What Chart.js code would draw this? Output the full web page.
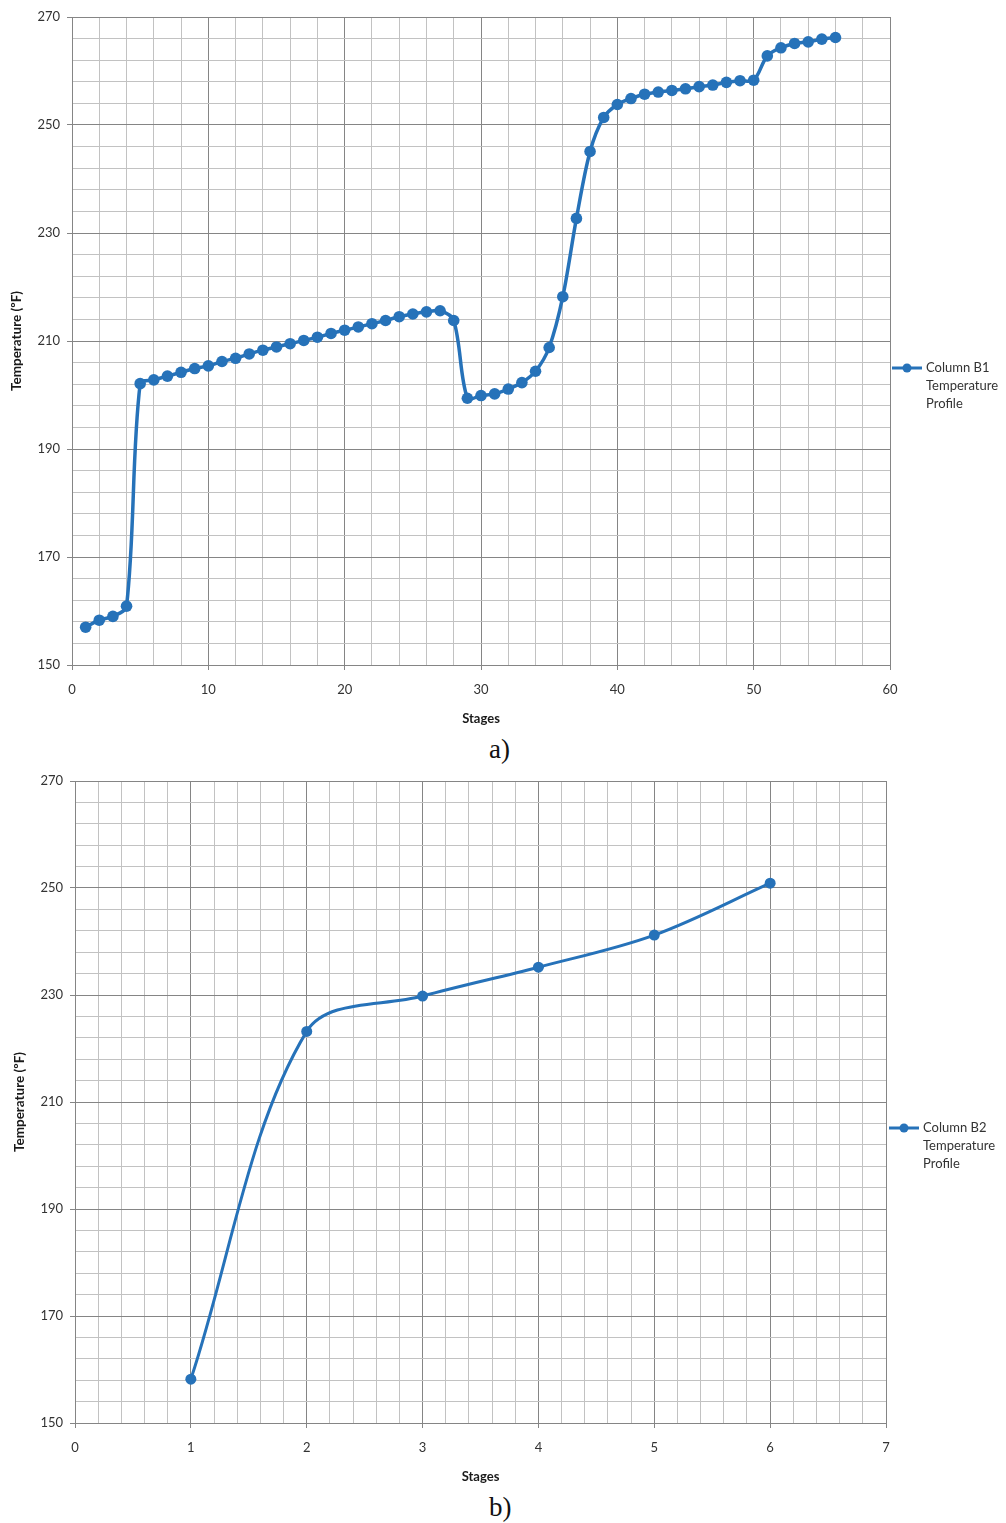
<!DOCTYPE html>
<html>
<head>
<meta charset="utf-8">
<script src="https://cdn.jsdelivr.net/npm/chart.js@4.4.1/dist/chart.umd.min.js"></script>
<style>
  html, body { margin: 0; padding: 0; background: #ffffff; }
  body { width: 1006px; height: 1523px; position: relative; overflow: hidden; }
  canvas { position: absolute; left: 0; }
  #chartA { top: 0; }
  #chartB { top: 764px; }
  .cap { position: absolute; font-family: "Liberation Serif", "DejaVu Serif", serif; font-size: 27px; line-height: 1; color: #111; }
</style>
</head>
<body>
<canvas id="chartA" width="1006" height="731"></canvas>
<div class="cap" style="left:489px;top:736px">a)</div>
<canvas id="chartB" width="1006" height="725"></canvas>
<div class="cap" style="left:489px;top:1494px">b)</div>
<script>
// Column B1: temperature on each of the 56 stages
const stagesB1 = [1, 2, 3, 4, 5, 6, 7, 8, 9, 10, 11, 12, 13, 14, 15, 16, 17, 18, 19, 20,
  21, 22, 23, 24, 25, 26, 27, 28, 29, 30, 31, 32, 33, 34, 35, 36, 37, 38, 39, 40,
  41, 42, 43, 44, 45, 46, 47, 48, 49, 50, 51, 52, 53, 54, 55, 56];
const tempsB1 = [157.0, 158.3, 159.0, 160.9, 202.1, 202.8, 203.5, 204.2, 204.9, 205.4,
  206.2, 206.8, 207.6, 208.3, 208.9, 209.5, 210.1, 210.7, 211.4, 212.0,
  212.6, 213.2, 213.8, 214.5, 215.0, 215.4, 215.6, 213.8, 199.4, 199.9,
  200.2, 201.1, 202.3, 204.4, 208.8, 218.2, 232.7, 245.1, 251.4, 253.8,
  254.9, 255.7, 256.1, 256.4, 256.7, 257.1, 257.4, 257.9, 258.2, 258.3,
  262.8, 264.3, 265.1, 265.4, 265.9, 266.2];

// Column B2: temperature on each of its 6 stages
const stagesB2 = [1, 2, 3, 4, 5, 6];
const tempsB2 = [158.2, 223.2, 229.8, 235.2, 241.2, 250.9];

const legendB1 = ['Column B1', 'Temperature', 'Profile'];
const legendB2 = ['Column B2', 'Temperature', 'Profile'];

const xTitle = 'Stages';
const yTitle = 'Temperature (ºF)';

const tempMin = 150, tempMax = 270, tempMajor = 20, tempMinor = 4;

const SERIES_COLOR = '#2672b9';
const MAJOR_GRID = '#858585';
const MINOR_GRID = '#c2c2c2';
const LABEL_COLOR = '#333333';
const FONT = 'Lato, "Open Sans", "DejaVu Sans", sans-serif';

function isMultiple(v, step) {
  const q = v / step;
  return Math.abs(q - Math.round(q)) < 1e-6;
}

// Legend drawn to the right of the plot: a line with a marker and wrapped text
const sideLegend = {
  id: 'sideLegend',
  afterDraw(chart, args, opts) {
    const ctx = chart.ctx;
    const ds = chart.data.datasets[0];
    ctx.save();
    ctx.strokeStyle = ds.borderColor;
    ctx.lineWidth = 3;
    ctx.beginPath();
    ctx.moveTo(opts.x, opts.y);
    ctx.lineTo(opts.x + opts.lineLen, opts.y);
    ctx.stroke();
    ctx.fillStyle = ds.pointBackgroundColor;
    ctx.beginPath();
    ctx.arc(opts.x + opts.lineLen / 2, opts.y, 4.5, 0, Math.PI * 2);
    ctx.fill();
    ctx.fillStyle = LABEL_COLOR;
    ctx.font = '13px ' + FONT;
    ctx.textBaseline = 'middle';
    ctx.textAlign = 'left';
    opts.lines.forEach((t, i) => {
      ctx.fillText(t, opts.x + opts.lineLen + 4, opts.y + i * 18);
    });
    ctx.restore();
  }
};

function buildChart(canvasId, xs, ys, cfg) {
  const points = xs.map((x, i) => ({ x: x, y: ys[i] }));
  return new Chart(document.getElementById(canvasId), {
    type: 'line',
    data: {
      datasets: [{
        label: cfg.legend.join(' '),
        data: points,
        borderColor: SERIES_COLOR,
        backgroundColor: SERIES_COLOR,
        pointBackgroundColor: SERIES_COLOR,
        pointBorderColor: SERIES_COLOR,
        borderWidth: cfg.lineWidth,
        pointRadius: cfg.pointRadius,
        pointBorderWidth: 0,
        tension: cfg.tension,
        fill: false
      }]
    },
    options: {
      responsive: false,
      animation: false,
      devicePixelRatio: 1,
      layout: { padding: { left: cfg.padLeft, right: cfg.padRight, top: cfg.padTop, bottom: 0 } },
      plugins: {
        legend: { display: false },
        tooltip: { enabled: false },
        sideLegend: { x: cfg.legendX, y: cfg.legendY, lineLen: 30, lines: cfg.legend }
      },
      scales: {
        x: {
          type: 'linear',
          min: 0,
          max: cfg.xMax,
          afterFit(scale) { scale.height = cfg.xAxisHeight; },
          ticks: {
            stepSize: cfg.xMinor,
            autoSkip: false,
            maxRotation: 0,
            padding: cfg.xTickPad,
            color: LABEL_COLOR,
            font: { family: FONT, size: 13 },
            callback: (v) => isMultiple(v, cfg.xMajor) ? String(Math.round(v)) : ''
          },
          grid: {
            color: (c) => isMultiple(c.tick.value, cfg.xMajor) ? MAJOR_GRID : MINOR_GRID,
            tickColor: (c) => isMultiple(c.tick.value, cfg.xMajor) ? MAJOR_GRID : 'rgba(0,0,0,0)',
            tickLength: 5,
            lineWidth: 1
          },
          border: { display: true, color: MAJOR_GRID, width: 1 },
          title: {
            display: true,
            text: xTitle,
            color: '#1a1a1a',
            font: { family: FONT, size: 13, weight: 'bold' }
          }
        },
        y: {
          type: 'linear',
          min: tempMin,
          max: tempMax,
          afterFit(scale) { scale.width = cfg.yAxisWidth; },
          ticks: {
            stepSize: tempMinor,
            autoSkip: false,
            padding: 7,
            color: LABEL_COLOR,
            font: { family: FONT, size: 13 },
            callback: (v) => isMultiple(v - tempMin, tempMajor) ? String(Math.round(v)) : ''
          },
          grid: {
            color: (c) => isMultiple(c.tick.value - tempMin, tempMajor) ? MAJOR_GRID : MINOR_GRID,
            tickColor: (c) => isMultiple(c.tick.value - tempMin, tempMajor) ? MAJOR_GRID : 'rgba(0,0,0,0)',
            tickLength: 5,
            lineWidth: 1
          },
          border: { display: true, color: MAJOR_GRID, width: 1 },
          title: {
            display: true,
            text: yTitle,
            color: '#1a1a1a',
            font: { family: FONT, size: 13.5, weight: 'bold' }
          }
        }
      }
    },
    plugins: [sideLegend]
  });
}

buildChart('chartA', stagesB1, tempsB1, {
  xMax: 60, xMajor: 10, xMinor: 2,
  padLeft: 5, padRight: 116, padTop: 17,
  yAxisWidth: 67, xAxisHeight: 66, xTickPad: 12,
  lineWidth: 3.5, pointRadius: 5.8, tension: 0.33,
  legendX: 892, legendY: 368, legend: legendB1
});

buildChart('chartB', stagesB2, tempsB2, {
  xMax: 7, xMajor: 1, xMinor: 0.2,
  padLeft: 8, padRight: 120, padTop: 17,
  yAxisWidth: 67, xAxisHeight: 66, xTickPad: 12,
  lineWidth: 3, pointRadius: 5.5, tension: 0.34,
  legendX: 889, legendY: 364, legend: legendB2
});
</script>
</body>
</html>
